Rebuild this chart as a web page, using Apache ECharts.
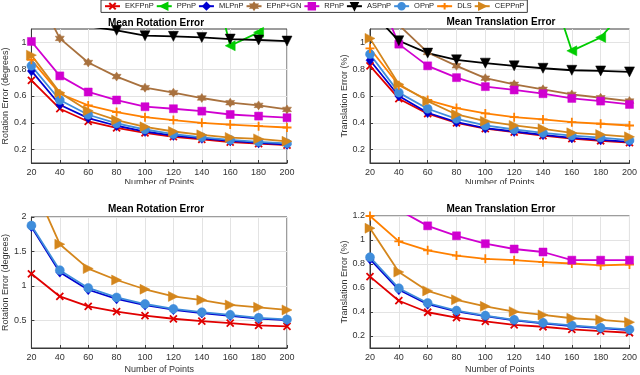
<!DOCTYPE html>
<html>
<head>
<meta charset="utf-8">
<script src="https://cdn.jsdelivr.net/npm/echarts@6/dist/echarts.min.js"></script>
<style>html,body{margin:0;padding:0;background:#fff}#c{width:640px;height:375px}</style>
</head>
<body>
<div id="c"></div>
<script>
// x values (Number of Points)
const points = [20, 40, 60, 80, 100, 120, 140, 160, 180, 200];
const methodNames = ['EKFPnP','PPnP','MLPnP','EPnP+GN','RPnP','ASPnP','OPnP','DLS','CEPPnP'];

// tick labels
const yTicksTop = [0.2, 0.4, 0.6, 0.8, 1];
const yTicksBottomLeft = [0.5, 1, 1.5, 2];
const yTicksBottomRight = [0.2, 0.4, 0.6, 0.8, 1, 1.2];

// Top-left: Mean Rotation Error (degrees)
const rotA_EKFPnP = [0.717, 0.505, 0.41, 0.362, 0.325, 0.296, 0.276, 0.256, 0.245, 0.234];
const rotA_PPnP   = [6.5, 3.8, 2.9, 2.3, 2.0, 1.9, 1.82, 0.975, 1.075, 1.35];
const rotA_MLPnP  = [0.787, 0.535, 0.435, 0.378, 0.335, 0.305, 0.284, 0.265, 0.25, 0.238];
const rotA_EPnPGN = [1.44, 1.03, 0.85, 0.745, 0.662, 0.625, 0.585, 0.55, 0.53, 0.50];
const rotA_RPnP   = [1.007, 0.75, 0.63, 0.57, 0.52, 0.505, 0.487, 0.462, 0.45, 0.438];
const rotA_ASPnP  = [1.8, 1.3, 1.12, 1.09, 1.05, 1.045, 1.037, 1.025, 1.018, 1.01];
const rotA_OPnP   = [0.825, 0.57, 0.46, 0.395, 0.35, 0.315, 0.292, 0.272, 0.258, 0.246];
const rotA_DLS    = [0.87, 0.617, 0.53, 0.48, 0.442, 0.42, 0.40, 0.387, 0.375, 0.365];
const rotA_CEPPnP = [0.905, 0.625, 0.49, 0.42, 0.37, 0.335, 0.31, 0.29, 0.28, 0.262];

// Top-right: Mean Translation Error (%)
const traA_EKFPnP = [0.825, 0.58, 0.468, 0.40, 0.357, 0.33, 0.305, 0.282, 0.266, 0.252];
const traA_PPnP   = [6.0, 3.5, 2.6, 2.1, 1.85, 1.7, 1.59, 0.937, 1.037, 1.28];
const traA_MLPnP  = [0.867, 0.60, 0.475, 0.405, 0.36, 0.335, 0.31, 0.287, 0.272, 0.258];
const traA_EPnPGN = [1.6, 1.13, 0.925, 0.825, 0.733, 0.687, 0.65, 0.612, 0.587, 0.562];
const traA_RPnP   = [1.5, 0.987, 0.825, 0.737, 0.67, 0.645, 0.617, 0.582, 0.562, 0.537];
const traA_ASPnP  = [1.24, 1.012, 0.92, 0.87, 0.845, 0.825, 0.807, 0.792, 0.787, 0.78];
const traA_OPnP   = [0.912, 0.625, 0.505, 0.43, 0.38, 0.35, 0.325, 0.305, 0.29, 0.27];
const traA_DLS    = [0.955, 0.68, 0.57, 0.51, 0.47, 0.442, 0.425, 0.405, 0.393, 0.38];
const traA_CEPPnP = [1.03, 0.687, 0.562, 0.462, 0.412, 0.38, 0.355, 0.325, 0.312, 0.295];

// Bottom-left: Mean Rotation Error (degrees)
const rotB_EKFPnP = [1.176, 0.848, 0.705, 0.629, 0.571, 0.524, 0.49, 0.462, 0.429, 0.414];
const rotB_MLPnP  = [1.86, 1.20, 0.945, 0.812, 0.722, 0.655, 0.607, 0.567, 0.527, 0.505];
const rotB_OPnP   = [1.876, 1.229, 0.971, 0.833, 0.738, 0.667, 0.619, 0.581, 0.538, 0.514];
const rotB_CEPPnP = [2.53, 1.605, 1.252, 1.086, 0.952, 0.848, 0.795, 0.724, 0.69, 0.652];

// Bottom-right: Mean Translation Error (%)
const traB_EKFPnP = [0.695, 0.494, 0.398, 0.354, 0.321, 0.293, 0.277, 0.255, 0.241, 0.227];
const traB_MLPnP  = [0.84, 0.585, 0.465, 0.405, 0.365, 0.33, 0.305, 0.283, 0.265, 0.25];
const traB_OPnP   = [0.857, 0.598, 0.475, 0.412, 0.37, 0.335, 0.31, 0.288, 0.269, 0.255];
const traB_CEPPnP = [1.098, 0.733, 0.576, 0.502, 0.447, 0.403, 0.376, 0.348, 0.335, 0.315];
const traB_DLS    = [1.2, 0.988, 0.914, 0.87, 0.843, 0.832, 0.815, 0.804, 0.788, 0.796];
const traB_RPnP   = [1.6, 1.25, 1.118, 1.035, 0.969, 0.925, 0.90, 0.832, 0.832, 0.832];

const FONT = 'Liberation Sans, Arial, Helvetica, sans-serif';
const STAR = 'path://M5,0L6.44,2.5L9.33,2.5L7.89,5L9.33,7.5L6.44,7.5L5,10L3.56,7.5L0.67,7.5L2.11,5L0.67,2.5L3.56,2.5Z';
const styles = {
  'EKFPnP':  {color:'#e00000', symbol:'path://M0,0L10,10M0,10L10,0', size:7, stroke:true},
  'PPnP':    {color:'#00cc00', symbol:'path://M0,5L9,0L9,10Z', size:10},
  'MLPnP':   {color:'#0000d0', symbol:'diamond', size:[8,10]},
  'EPnP+GN': {color:'#a8713e', symbol:STAR, size:9},
  'RPnP':    {color:'#d000d0', symbol:'rect', size:8},
  'ASPnP':   {color:'#000000', symbol:'path://M0,0L10,0L5,9Z', size:10},
  'OPnP':    {color:'#3f8ddb', symbol:'circle', size:9},
  'DLS':     {color:'#ff8000', symbol:'path://M5,0L5,10M0,5L10,5', size:9, stroke:true},
  'CEPPnP':  {color:'#d4861c', symbol:'path://M9,5L0,0L0,10Z', size:10}
};

function mk(name, ys, idx) {
  const s = styles[name];
  return {
    name: name, type: 'line', xAxisIndex: idx, yAxisIndex: idx,
    data: points.map((x, i) => [x, ys[i]]),
    symbol: s.symbol, symbolSize: s.size, showSymbol: true,
    clip: true, animation: false,
    lineStyle: {color: s.color, width: 1.8},
    itemStyle: s.stroke ? {color: s.color, borderColor: s.color, borderWidth: 1.8, opacity: 1}
                        : {color: s.color, borderColor: s.color, borderWidth: 0.5},
    emphasis: {disabled: true}
  };
}

const grids = [
  {left: 25, top: 29, width: 262, height: 134},
  {left: 370, top: 29, width: 263, height: 134},
  {left: 25, top: 217, width: 262, height: 132},
  {left: 370, top: 216, width: 263, height: 133}
].map(g => Object.assign(g, {show: true, borderColor: '#3a3a3a', borderWidth: 1, backgroundColor: 'transparent'}));

function xAx(idx, gap) {
  return {
    gridIndex: idx, type: 'value', min: 20, max: 200, interval: 20,
    name: 'Number of Points', nameLocation: 'middle', nameGap: gap,
    nameTextStyle: {fontSize: 9, color: '#333', fontFamily: FONT},
    axisLine: {show: true, lineStyle: {color: '#3a3a3a', width: 1}},
    axisTick: {show: true, inside: true, length: 3, lineStyle: {color: '#3a3a3a'}},
    axisLabel: {fontSize: 9, color: '#333', margin: 5, fontFamily: FONT},
    splitLine: {show: true, lineStyle: {color: '#e3e3e3', width: 1}}
  };
}
function yAx(idx, name, min, max, ticks) {
  return {
    gridIndex: idx, type: 'value', min: min, max: max,
    name: name, nameLocation: 'middle', nameGap: 16,
    nameTextStyle: {fontSize: 9, color: '#333', fontFamily: FONT},
    axisLine: {show: true, lineStyle: {color: '#3a3a3a', width: 1}},
    axisTick: {show: true, inside: true, length: 3, lineStyle: {color: '#3a3a3a'}, customValues: ticks},
    axisLabel: {fontSize: 9, color: '#333', margin: 5, fontFamily: FONT, hideOverlap: false,
      customValues: ticks,
      formatter: function (v) { return String(parseFloat(Number(v).toFixed(2))); }},
    splitLine: {show: true, lineStyle: {color: '#e3e3e3', width: 1}}
  };
}

const titles = [
  {text: 'Mean Rotation Error', x: 156, y: 18},
  {text: 'Mean Translation Error', x: 501, y: 17},
  {text: 'Mean Rotation Error', x: 156, y: 204},
  {text: 'Mean Translation Error', x: 501, y: 204}
].map(t => ({text: t.text, left: t.x, top: t.y, textAlign: 'center', padding: 0,
  textStyle: {fontSize: 10, fontWeight: 'bold', color: '#000', fontFamily: FONT}}));

const series = [
  mk('EKFPnP', rotA_EKFPnP, 0), mk('PPnP', rotA_PPnP, 0), mk('MLPnP', rotA_MLPnP, 0),
  mk('EPnP+GN', rotA_EPnPGN, 0), mk('RPnP', rotA_RPnP, 0), mk('ASPnP', rotA_ASPnP, 0),
  mk('OPnP', rotA_OPnP, 0), mk('DLS', rotA_DLS, 0), mk('CEPPnP', rotA_CEPPnP, 0),
  mk('EKFPnP', traA_EKFPnP, 1), mk('PPnP', traA_PPnP, 1), mk('MLPnP', traA_MLPnP, 1),
  mk('EPnP+GN', traA_EPnPGN, 1), mk('RPnP', traA_RPnP, 1), mk('ASPnP', traA_ASPnP, 1),
  mk('OPnP', traA_OPnP, 1), mk('DLS', traA_DLS, 1), mk('CEPPnP', traA_CEPPnP, 1),
  mk('EKFPnP', rotB_EKFPnP, 2), mk('MLPnP', rotB_MLPnP, 2), mk('OPnP', rotB_OPnP, 2),
  mk('CEPPnP', rotB_CEPPnP, 2),
  mk('EKFPnP', traB_EKFPnP, 3), mk('MLPnP', traB_MLPnP, 3), mk('OPnP', traB_OPnP, 3),
  mk('CEPPnP', traB_CEPPnP, 3), mk('DLS', traB_DLS, 3), mk('RPnP', traB_RPnP, 3)
];

const chart = echarts.init(document.getElementById('c'), null, {renderer: 'canvas'});
chart.setOption({
  animation: false,
  backgroundColor: '#fff',
  title: titles,
  legend: {
    data: methodNames, top: 0, left: 101, itemWidth: 15, itemHeight: 8, itemGap: 2,
    padding: [2, 3], borderColor: '#3a3a3a', borderWidth: 1, backgroundColor: '#fff',
    selectedMode: false,
    textStyle: {fontSize: 7.5, color: '#222', fontFamily: FONT}
  },
  grid: grids,
  xAxis: [xAx(0, 15), xAx(1, 15), xAx(2, 17), xAx(3, 17)],
  yAxis: [
    yAx(0, 'Rotation Error (degrees)', 0.1, 1.1, yTicksTop),
    yAx(1, 'Translation Error (%)', 0.1, 1.1, yTicksTop),
    yAx(2, 'Rotation Error (degrees)', 0.1, 2, yTicksBottomLeft),
    yAx(3, 'Translation Error (%)', 0.1, 1.2, yTicksBottomRight)
  ],
  graphic: [{type: 'rect', shape: {x: 0, y: 184, width: 640, height: 16}, style: {fill: '#fff'}, z: 100}],
  series: series
});
</script>
</body>
</html>
